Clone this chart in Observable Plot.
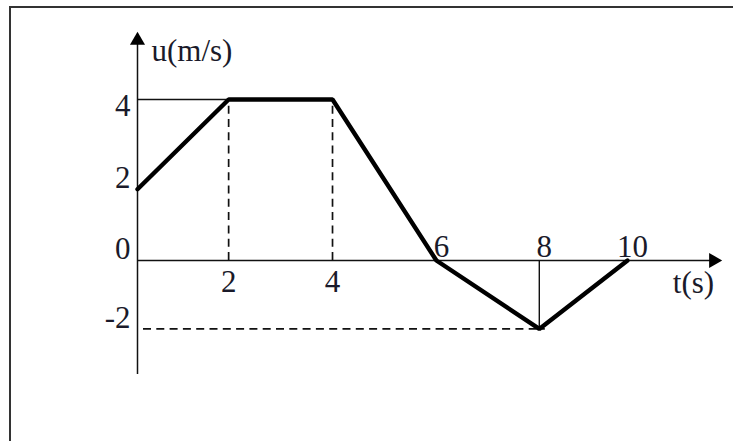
<!DOCTYPE html>
<html>
<head>
<meta charset="utf-8">
<script src="https://cdn.jsdelivr.net/npm/d3@7"></script>
<script src="https://cdn.jsdelivr.net/npm/@observablehq/plot@0.6"></script>
<style>
  html, body { margin: 0; padding: 0; background: #fff; }
  #wrap { position: relative; width: 733px; height: 441px; overflow: hidden; }
  #border { position: absolute; left: 9px; top: 6px; width: 900px; height: 600px;
            border-left: 2px solid #333; border-top: 2px solid #333; pointer-events: none; z-index: 2; }
</style>
</head>
<body>
<div id="wrap"><div id="border"></div><div id="chart"></div></div>
<script>
// data
const tValues = [0, 2, 4, 6, 8, 10];
const uValues = [2, 4, 4, 0, -2, 0];
const tTicks = [2, 4, 6, 8, 10];
const uTicks = [4, 2, 0, -2];
const uTickLabels = ["4", "2", "0", "-2"];
const tTickLabels = ["2", "4", "6", "8", "10"];
const xTitle = "t(s)";
const yTitle = "u(m/s)";

const points = tValues.map((t, i) => ({t, u: uValues[i]}));
const uMax = d3.max(uValues);
const plateau = points.filter(d => d.u === uMax);
const minPoint = points.filter(d => d.u === d3.min(uValues));
const uAt = t => (points.find(d => d.t === t) || {u: 0}).u;

// hand-drawn (uneven) axis spacing of the original figure
const tWarp = d3.scaleLinear([0, 2, 4, 6, 8, 10], [0, 1.86, 3.98, 6.1, 8.2, 10]);
const uWarp = d3.scaleLinear([-2, 0, 2, 4], [-1.7, 0, 1.77, 4]);

const font = "Liberation Serif, Times New Roman, serif";
const fs = 31;
const ink = "#1a1a2a";

const chart = Plot.plot({
  width: 733,
  height: 441,
  marginLeft: 137,
  marginRight: 20,
  marginTop: 40,
  marginBottom: 67,
  style: {fontFamily: font, background: "transparent"},
  x: {type: "linear", transform: tWarp, domain: [0, 10], range: [137, 627], axis: null},
  y: {type: "linear", transform: uWarp, domain: [0, 4], range: [260, 99], axis: null},
  marks: [
    // guides
    Plot.ruleY(plateau.slice(0, 1), {y: "u", x1: 0, x2: "t", stroke: "#111", strokeWidth: 1.4}),
    Plot.ruleX(plateau, {x: "t", y1: 0, y2: "u", stroke: "#111", strokeWidth: 1.7, strokeDasharray: "8,5.3"}),
    Plot.ruleX(minPoint, {x: "t", y1: 0, y2: "u", stroke: "#111", strokeWidth: 1.4}),
    Plot.ruleY(minPoint, {y: "u", x1: 0, x2: "t", stroke: "#111", strokeWidth: 1.7, strokeDasharray: "8,5.3", dx: 6}),
    // axes
    Plot.ruleY([0], {stroke: "#111", strokeWidth: 1.5}),
    Plot.ruleX([0], {stroke: "#111", strokeWidth: 1.5}),
    Plot.dot([0], {x: d => d, frameAnchor: "top", symbol: "triangle", r: 5.6, fill: "#000", stroke: null}),
    Plot.dot([0], {y: d => d, frameAnchor: "right", symbol: "triangle", rotate: 90, r: 5.6, fill: "#000", stroke: null}),
    // data line
    Plot.line(points, {x: "t", y: "u", stroke: "#000", strokeWidth: 4.4, strokeLinejoin: "miter"}),
    // tick labels
    Plot.text(uTicks.filter(d => d === uMax), {x: () => 0, y: d => d, text: d => uTickLabels[uTicks.indexOf(d)],
      textAnchor: "end", dx: -7, dy: 7, fontSize: fs, fill: ink}),
    Plot.text(uTicks.filter(d => d !== uMax), {x: () => 0, y: d => d, text: d => uTickLabels[uTicks.indexOf(d)],
      textAnchor: "end", dx: -7, dy: -11, fontSize: fs, fill: ink}),
    Plot.text(tTicks.filter(t => uAt(t) > 0), {x: d => d, y: () => 0, text: d => tTickLabels[tTicks.indexOf(d)],
      dy: 22, fontSize: fs, fill: ink}),
    Plot.text(tTicks.filter(t => uAt(t) <= 0), {x: d => d, y: () => 0, text: d => tTickLabels[tTicks.indexOf(d)],
      dy: -13, dx: 5, fontSize: fs, fill: ink}),
    // titles
    Plot.text([yTitle], {x: () => 0, frameAnchor: "top", text: d => d, textAnchor: "start", dx: 14, dy: -2, fontSize: fs, fill: ink}),
    Plot.text([xTitle], {y: () => 0, frameAnchor: "right", text: d => d, textAnchor: "middle", dx: -20, dy: 23, fontSize: fs, fill: ink})
  ]
});
document.getElementById("chart").appendChild(chart);
</script>
</body>
</html>
